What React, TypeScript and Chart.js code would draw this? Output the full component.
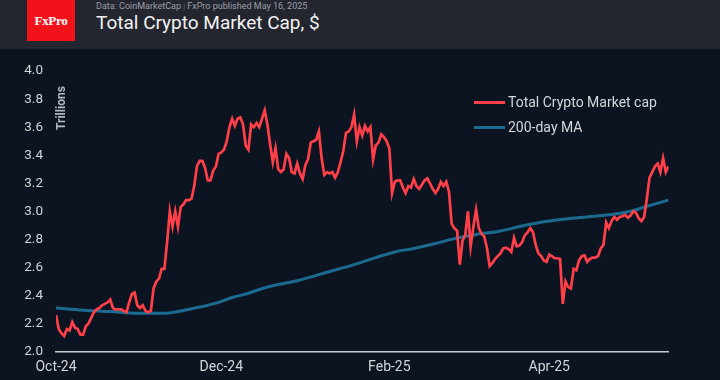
import React, { useEffect, useRef } from "react";
import { Chart, registerables } from "chart.js";

Chart.register(...registerables);

// Daily total crypto market cap (trillions $), from 1 Oct 2024 to 15 May 2025
const marketCap = [
  2.26, 2.16, 2.13, 2.11, 2.16, 2.15, 2.21, 2.17, 2.16, 2.12,
  2.12, 2.18, 2.2, 2.24, 2.28, 2.3, 2.31, 2.33, 2.34, 2.35,
  2.37, 2.31, 2.3, 2.3, 2.3, 2.29, 2.28, 2.35, 2.41, 2.42,
  2.33, 2.31, 2.33, 2.29, 2.28, 2.29, 2.45, 2.5, 2.52, 2.59,
  2.59, 2.78, 3.0, 2.89, 3.0, 2.89, 3.03, 3.05, 3.08, 3.08,
  3.09, 3.18, 3.32, 3.36, 3.36, 3.31, 3.22, 3.22, 3.29, 3.32,
  3.41, 3.42, 3.44, 3.5, 3.6, 3.66, 3.61, 3.66, 3.67, 3.62,
  3.47, 3.44, 3.62, 3.6, 3.63, 3.6, 3.66, 3.72, 3.62, 3.48,
  3.35, 3.45, 3.3, 3.28, 3.3, 3.41, 3.38, 3.28, 3.27, 3.34,
  3.27, 3.23, 3.33, 3.37, 3.49, 3.5, 3.51, 3.57, 3.38, 3.26,
  3.28, 3.27, 3.28, 3.24, 3.28, 3.35, 3.43, 3.56, 3.57, 3.6,
  3.69, 3.5, 3.6, 3.54, 3.61, 3.57, 3.6, 3.37, 3.47, 3.49,
  3.55, 3.53, 3.5, 3.45, 3.13, 3.21, 3.22, 3.22, 3.17, 3.13,
  3.18, 3.17, 3.23, 3.18, 3.16, 3.19, 3.22, 3.235, 3.2, 3.16,
  3.13, 3.16, 3.21, 3.18, 3.21, 3.14, 2.91, 2.88, 2.86, 2.62,
  2.79, 2.83, 3.0, 2.75, 2.89, 3.01, 2.88, 2.84, 2.82, 2.74,
  2.61, 2.63, 2.66, 2.68, 2.7, 2.735, 2.74, 2.73, 2.71, 2.81,
  2.75, 2.755, 2.78, 2.83, 2.85, 2.88, 2.85, 2.76, 2.7, 2.68,
  2.65, 2.64, 2.69, 2.68, 2.665, 2.665, 2.66, 2.34, 2.5, 2.46,
  2.45, 2.59, 2.58, 2.65, 2.68, 2.685, 2.64, 2.66, 2.67, 2.67,
  2.68, 2.735, 2.76, 2.92, 2.88, 2.93, 2.96, 2.94, 2.96, 2.965,
  2.975, 2.955, 2.97, 3.0, 2.99, 2.95, 2.93, 2.96, 3.09, 3.24,
  3.28, 3.32, 3.34, 3.28, 3.38, 3.28, 3.32,
];

// 200-day moving average, sampled (day offset from 1 Oct 2024)
const maDays = [0, 10, 20, 30, 40, 45, 50, 55, 60, 65, 70, 78, 90, 100, 110, 118, 125, 132, 140, 147, 155, 164, 172, 180, 188, 196, 204, 212, 218, 226];
const maValues = [2.31, 2.295, 2.285, 2.272, 2.272, 2.285, 2.305, 2.325, 2.35, 2.385, 2.41, 2.46, 2.51, 2.565, 2.62, 2.67, 2.71, 2.735, 2.77, 2.805, 2.835, 2.86, 2.895, 2.925, 2.945, 2.96, 2.975, 3.0, 3.035, 3.08];

const tickDays = [0, 61, 123, 182];
const tickLabels = ["Oct-24", "Dec-24", "Feb-25", "Apr-25"];

const seriesNames = ["Total Crypto Market cap", "200-day MA"];
const seriesColors = ["#ff4049", "#1b6b91"];

const FONT = "Roboto, 'Noto Sans', sans-serif";

export default function App() {
  const ref = useRef<HTMLCanvasElement>(null);

  useEffect(() => {
    if (!ref.current) return;
    const trillions = {
      id: "trillions",
      afterDraw(chart: any) {
        const { ctx, chartArea } = chart;
        ctx.save();
        ctx.translate(chartArea.left + 6, chartArea.top + 37);
        ctx.rotate(-Math.PI / 2);
        ctx.font = `bold 12px ${FONT}`;
        ctx.fillStyle = "#b4b8c0";
        ctx.textAlign = "center";
        ctx.textBaseline = "middle";
        ctx.fillText("Trillions", 0, 0);
        ctx.restore();
      },
    };
    const chart = new Chart(ref.current, {
      type: "line",
      data: {
        datasets: [
          {
            label: seriesNames[0],
            data: marketCap.map((v, i) => ({ x: i, y: v })),
            borderColor: seriesColors[0],
            borderWidth: 2.7,
            pointRadius: 0,
            tension: 0,
          },
          {
            label: seriesNames[1],
            data: maDays.map((d, i) => ({ x: d, y: maValues[i] })),
            borderColor: seriesColors[1],
            borderWidth: 3,
            pointRadius: 0,
            cubicInterpolationMode: "monotone",
          },
        ],
      },
      options: {
        animation: false,
        responsive: false,
        layout: { padding: { top: 18, right: 51.5, left: 0, bottom: 0 } },
        plugins: { legend: { display: false }, tooltip: { enabled: false } },
        scales: {
          x: {
            type: "linear",
            min: 0,
            max: marketCap.length - 1,
            afterBuildTicks: (s: any) => {
              s.ticks = tickDays.map((v) => ({ value: v }));
            },
            afterFit: (s: any) => {
              s.height = 28.5;
            },
            ticks: {
              callback: (_v: any, i: number) => tickLabels[i],
              color: "#d2d4d8",
              font: { family: FONT, size: 14 },
              padding: 8,
              maxRotation: 0,
              autoSkip: false,
            },
            grid: { display: false, drawTicks: false },
            border: { display: true, color: "#c9cbd0", width: 1.5 },
          },
          y: {
            min: 2,
            max: 4,
            afterFit: (s: any) => {
              s.width = 56;
            },
            ticks: {
              stepSize: 0.2,
              callback: (v: any) => Number(v).toFixed(1),
              color: "#d2d4d8",
              font: { family: FONT, size: 13.5 },
              padding: 13,
            },
            grid: { display: false, drawTicks: false },
            border: { display: false },
          },
        },
      },
      plugins: [trillions],
    } as any);
    return () => chart.destroy();
  }, []);

  return (
    <div
      style={{
        position: "fixed",
        left: 0,
        top: 0,
        width: 720,
        height: 380,
        background: "#0d1421",
        overflow: "hidden",
        fontFamily: FONT,
      }}
    >
      <div style={{ position: "absolute", left: 0, top: 0, width: 720, height: 49, background: "#23262f" }}>
        <div
          style={{
            position: "absolute",
            left: 27,
            top: 0,
            width: 48,
            height: 41,
            background: "#f2131a",
            color: "#fff",
            fontFamily: "'Liberation Serif', serif",
            fontWeight: "bold",
            fontSize: 13,
            display: "flex",
            alignItems: "center",
            justifyContent: "center",
            letterSpacing: -0.3,
          }}
        >
          FxPro
        </div>
        <div
          style={{
            position: "absolute",
            left: 96,
            top: 0,
            fontSize: 9,
            lineHeight: "13px",
            color: "#9a9ea8",
            whiteSpace: "nowrap",
          }}
        >
          Data: CoinMarketCap <span style={{ color: "#6c707a", fontSize: 7 }}>|</span> FxPro published May 16, 2025
        </div>
        <div
          style={{
            position: "absolute",
            left: 96,
            top: 12,
            fontSize: 19,
            lineHeight: "22px",
            color: "#f2f2f2",
            whiteSpace: "nowrap",
          }}
        >
          Total Crypto Market Cap, $
        </div>
      </div>
      <canvas ref={ref} width={720} height={330} style={{ position: "absolute", left: 0, top: 50, width: 720, height: 330 }} />
      {seriesNames.map((name, i) => (
        <div key={name}>
          <div
            style={{
              position: "absolute",
              left: 474,
              top: 101 + i * 25,
              width: 31,
              height: 3,
              background: seriesColors[i],
            }}
          />
          <div
            style={{
              position: "absolute",
              left: 508,
              top: 94 + i * 25,
              fontSize: 14,
              lineHeight: "17px",
              color: "#d5d7db",
              whiteSpace: "nowrap",
            }}
          >
            {name}
          </div>
        </div>
      ))}
    </div>
  );
}
